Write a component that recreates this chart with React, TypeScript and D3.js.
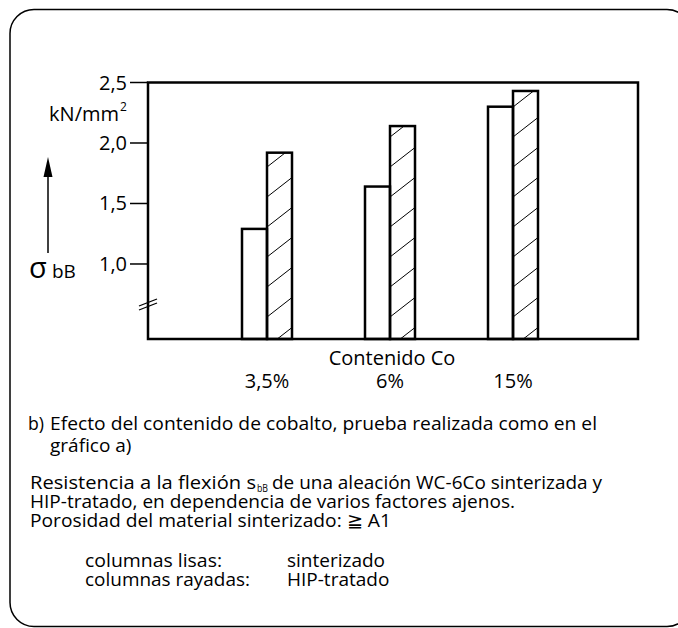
import React from "react";
import * as d3 from "d3";

const categories = ["3,5%", "6%", "15%"];
const sinterizado = [1.29, 1.64, 2.3];
const hipTratado = [1.92, 2.14, 2.43];
const yTicks = [1.0, 1.5, 2.0, 2.5];
const yTickLabels = ["1,0", "1,5", "2,0", "2,5"];

const W = 678;
const H = 628;
const FONT = "'Open Sans', 'Noto Sans', sans-serif";

export default function App() {
  const left = 148, right = 638, top = 82.5, bottom = 339;
  const x = d3.scalePoint<string>().domain(categories).range([144, 636]).padding(1);
  const y = d3.scaleLinear().domain([0.38, 2.5]).range([bottom, top]);
  const bw = 25;

  const hatchLines = (x0: number, y0: number, w: number, h: number) => {
    const lines: JSX.Element[] = [];
    const step = 30;
    const rise = w * 0.78;
    for (let yy = y0 + h + 8; yy > y0 - step; yy -= step) {
      lines.push(
        <line key={yy} x1={x0} y1={yy} x2={x0 + w} y2={yy - rise} stroke="#000" strokeWidth={1} />
      );
    }
    return lines;
  };

  return (
    <svg width={W} height={H} style={{ position: "absolute", left: 0, top: 0, background: "#fff" }} fontFamily={FONT}>
      <defs>
        {categories.map((c, i) => {
          const cx = x(c)!;
          const yt = y(hipTratado[i]);
          return (
            <clipPath id={`clip${i}`} key={c}>
              <rect x={cx} y={yt} width={bw} height={bottom - yt} />
            </clipPath>
          );
        })}
      </defs>
      {/* outer rounded border */}
      <rect x={10} y={9.5} width={681} height={617} rx={24} ry={24} fill="none" stroke="#000" strokeWidth={1.5} />

      {/* bars */}
      {categories.map((c, i) => {
        const cx = x(c)!;
        const ys = y(sinterizado[i]);
        const yh = y(hipTratado[i]);
        return (
          <g key={c}>
            <rect x={cx - bw} y={ys} width={bw} height={bottom - ys} fill="#fff" stroke="#000" strokeWidth={2.5} />
            <g clipPath={`url(#clip${i})`}>{hatchLines(cx, yh, bw, bottom - yh)}</g>
            <rect x={cx} y={yh} width={bw} height={bottom - yh} fill="none" stroke="#000" strokeWidth={2.5} />
          </g>
        );
      })}

      {/* frame */}
      <path d={`M${left},${top}H${right}V${bottom}H${left}Z`} fill="none" stroke="#000" strokeWidth={2.5} />

      {/* y ticks */}
      {yTicks.map((t, i) => (
        <g key={t}>
          <line x1={130} x2={left} y1={y(t)} y2={y(t)} stroke="#000" strokeWidth={1.5} />
          <text x={127} y={y(t)} dy="0.35em" textAnchor="end" fontSize={20}>{yTickLabels[i]}</text>
        </g>
      ))}

      {/* axis break */}
      <line x1={139} y1={310} x2={157} y2={303} stroke="#000" strokeWidth={1.3} />
      <line x1={139} y1={306} x2={157} y2={299} stroke="#000" strokeWidth={1.3} />

      {/* unit */}
      <text x={119} y={121} textAnchor="end" fontSize={20}>kN/mm</text>
      <text x={120} y={111} fontSize={12}>2</text>

      {/* arrow */}
      <line x1={48} y1={253} x2={48} y2={172} stroke="#000" strokeWidth={1.5} />
      <path d="M48,157 L43.5,177 L52.5,177 Z" fill="#000" />
      <text x={29} y={278} fontSize={29}>σ</text>
      <text x={52} y={278} fontSize={19}>bB</text>

      {/* x labels */}
      <text x={392} y={365} textAnchor="middle" fontSize={20}>Contenido Co</text>
      {categories.map((c) => (
        <text key={c} x={x(c)!} y={388} textAnchor="middle" fontSize={20}>{c}</text>
      ))}

      {/* caption */}
      <g fontSize={19}>
        <text x={28} y={430} textLength={16} lengthAdjust="spacingAndGlyphs">b)</text>
        <text x={50} y={430} textLength={547} lengthAdjust="spacingAndGlyphs">Efecto del contenido de cobalto, prueba realizada como en el</text>
        <text x={50} y={452}>gráfico a)</text>
        <text x={30} y={489} textLength={226} lengthAdjust="spacingAndGlyphs">Resistencia a la flexión s</text>
        <text x={257} y={492} fontSize={11} textLength={11} lengthAdjust="spacingAndGlyphs">bB</text>
        <text x={272} y={489} textLength={330} lengthAdjust="spacingAndGlyphs">de una aleación WC-6Co sinterizada y</text>
        <text x={30} y={508} textLength={485} lengthAdjust="spacingAndGlyphs">HIP-tratado, en dependencia de varios factores ajenos.</text>
        <text x={30} y={527} textLength={361} lengthAdjust="spacingAndGlyphs">Porosidad del material sinterizado: ≧ A1</text>
        <text x={85} y={567} textLength={137} lengthAdjust="spacingAndGlyphs">columnas lisas:</text>
        <text x={287} y={567}>sinterizado</text>
        <text x={85} y={586} textLength={165} lengthAdjust="spacingAndGlyphs">columnas rayadas:</text>
        <text x={287} y={586}>HIP-tratado</text>
      </g>
    </svg>
  );
}
